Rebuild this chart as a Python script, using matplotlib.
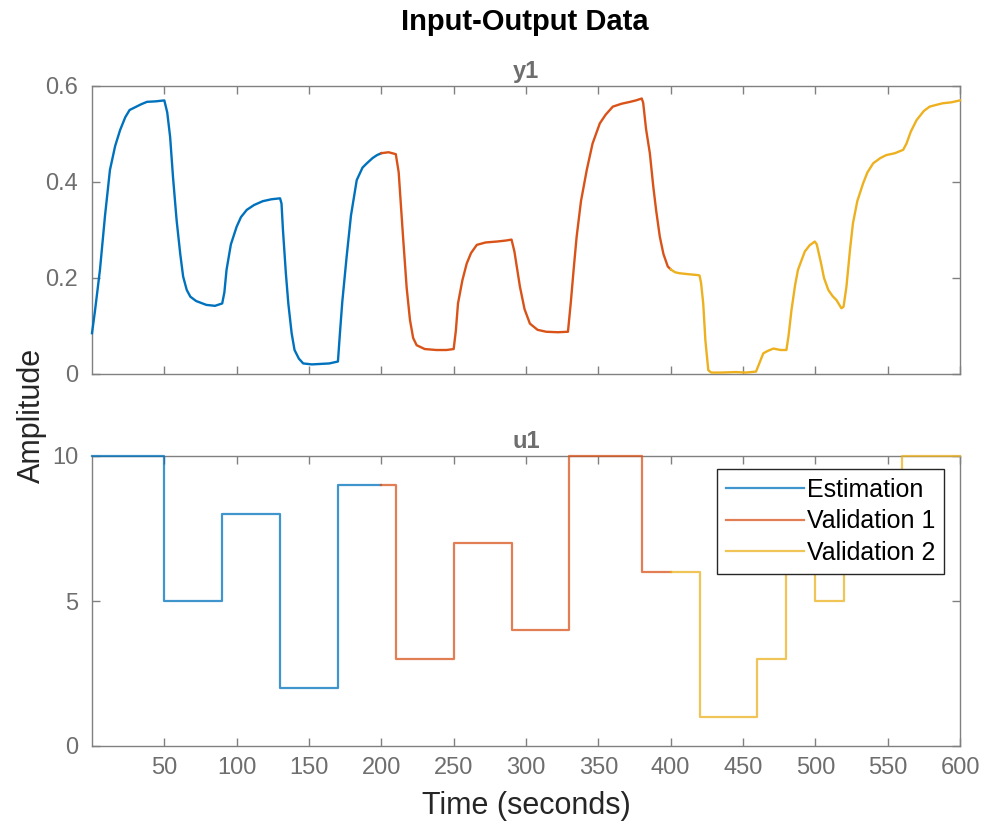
import matplotlib
matplotlib.use('Agg')
import matplotlib.pyplot as plt

plt.rcParams['font.family'] = ['Liberation Sans', 'DejaVu Sans']

COLORS = ['#0072BD', '#D95319', '#EDB120']
NAMES = ['Estimation', 'Validation 1', 'Validation 2']

# y1 output (time in seconds, amplitude)
est_t = [0, 2, 5.5, 9, 12.4, 16, 19.4, 23, 26, 30, 34, 38, 44, 50,
         52, 54, 56, 58.5, 61, 63, 65.5, 68, 72, 79, 85, 90,
         91.5, 93, 96, 100, 103, 107, 112, 118, 124, 130,
         131, 132, 134, 135.7, 138, 140, 143, 146, 152, 158, 164, 170,
         171.5, 173, 176, 179, 183, 187, 190, 194, 197, 200]
est_y = [0.085, 0.13, 0.217, 0.33, 0.425, 0.475, 0.508, 0.535, 0.55, 0.556, 0.562, 0.567, 0.568, 0.57,
         0.545, 0.494, 0.41, 0.32, 0.25, 0.203, 0.175, 0.161, 0.152, 0.144, 0.142, 0.147,
         0.17, 0.217, 0.27, 0.307, 0.327, 0.342, 0.352, 0.36, 0.364, 0.366,
         0.355, 0.3, 0.21, 0.147, 0.085, 0.05, 0.032, 0.022, 0.02, 0.021, 0.022, 0.026,
         0.09, 0.15, 0.244, 0.33, 0.404, 0.43, 0.439, 0.45, 0.456, 0.46]

val1_t = [200, 205, 210, 212, 215, 217.5, 219.8, 222, 224.4, 230, 238, 245, 250,
          251.5, 253, 256, 259, 262, 266, 272, 280, 286, 290,
          292, 295.8, 299, 302.7, 308, 314, 322, 329,
          331, 333, 335, 338, 342, 346, 351, 355, 360, 366, 372, 376, 380,
          381, 383, 385.6, 388, 390, 392.5, 395, 398, 400]
val1_y = [0.46, 0.462, 0.458, 0.42, 0.286, 0.18, 0.1125, 0.075, 0.06, 0.052, 0.05, 0.05, 0.052,
          0.09, 0.147, 0.195, 0.23, 0.252, 0.269, 0.274, 0.276, 0.278, 0.28,
          0.255, 0.182, 0.135, 0.105, 0.092, 0.088, 0.087, 0.088,
          0.15, 0.22, 0.286, 0.36, 0.425, 0.48, 0.522, 0.54, 0.557, 0.563, 0.567, 0.57, 0.574,
          0.565, 0.51, 0.46, 0.39, 0.34, 0.286, 0.25, 0.224, 0.218]

val2_t = [400, 403, 406, 412, 419, 420, 421, 422.5, 424, 426, 428, 435, 445, 452, 459,
          461, 464, 467, 471, 476, 480,
          481.5, 483.5, 486, 488, 492.7, 496, 499.6,
          501, 504, 506, 509, 512, 514.6, 518,
          519.5, 521.5, 524, 526, 529, 533, 536, 540, 545, 549, 555, 560.7,
          563, 566, 570, 575, 579, 584, 588, 594, 600]
val2_y = [0.218, 0.212, 0.21, 0.208, 0.206, 0.205, 0.19, 0.147, 0.07, 0.008, 0.003, 0.003, 0.004, 0.003, 0.005,
          0.02, 0.043, 0.048, 0.053, 0.05, 0.05,
          0.08, 0.133, 0.185, 0.217, 0.255, 0.268, 0.276,
          0.27, 0.23, 0.2, 0.175, 0.162, 0.154, 0.137,
          0.14, 0.182, 0.26, 0.314, 0.36, 0.397, 0.42, 0.439, 0.45, 0.456, 0.46, 0.467,
          0.48, 0.505, 0.529, 0.548, 0.557, 0.561, 0.564, 0.566, 0.57]

# u1 input, step levels (value holds from each time until the next)
est_ut = [0, 50, 90, 130, 170, 200]
est_u = [10, 5, 8, 2, 9, 9]
val1_ut = [200, 210, 250, 290, 330, 380, 400]
val1_u = [9, 3, 7, 4, 10, 6, 6]
val2_ut = [400, 420, 460, 480, 500, 520, 560, 600]
val2_u = [6, 1, 3, 7, 5, 9, 10, 10]

AX_GRAY = '#808080'
TXT_GRAY = '#6e6e6e'


def style_axes(ax):
    for s in ax.spines.values():
        s.set_color(AX_GRAY)
        s.set_linewidth(1.0)
    ax.tick_params(direction='in', length=6, width=1.0, color=AX_GRAY,
                   labelcolor=TXT_GRAY, labelsize=17, top=True, right=True)
    ax.tick_params(axis='y', pad=10)
    ax.tick_params(axis='x', pad=8)
    ax.set_xlim(0, 600)
    ax.set_xticks(range(50, 601, 50))


fig = plt.figure(figsize=(9.82, 8.24), dpi=100)
ax1 = fig.add_axes([92 / 982, 1 - 374 / 824, 868 / 982, 288 / 824])
ax2 = fig.add_axes([92 / 982, 1 - 746 / 824, 868 / 982, 290 / 824])

for t, y, c in zip([est_t, val1_t, val2_t], [est_y, val1_y, val2_y], COLORS):
    ax1.plot(t, y, color=c, lw=1.7, clip_on=False, zorder=3)
style_axes(ax1)
ax1.set_ylim(0, 0.6)
ax1.set_yticks([0, 0.2, 0.4, 0.6])
ax1.set_yticklabels(['0', '0.2', '0.4', '0.6'])
ax1.set_xticklabels([])
ax1.set_title('y1', fontsize=17, fontweight='bold', color=TXT_GRAY, pad=6)

for t, u, c, n in zip([est_ut, val1_ut, val2_ut], [est_u, val1_u, val2_u], COLORS, NAMES):
    ax2.step(t, u, where='post', color=c, lw=1.6, alpha=0.75, label=n,
             clip_on=False, zorder=3)
style_axes(ax2)
ax2.set_ylim(0, 10)
ax2.set_yticks([0, 5, 10])
ax2.set_title('u1', fontsize=17, fontweight='bold', color=TXT_GRAY, pad=6)
leg = ax2.legend(loc='upper right', bbox_to_anchor=(0.982, 0.955), fontsize=18,
                 fancybox=False, framealpha=1, edgecolor='#262626',
                 handlelength=3.1, handletextpad=0.15, borderpad=0.35,
                 labelspacing=0.3, borderaxespad=0)
leg.get_frame().set_linewidth(1.0)
leg.set_zorder(5)

fig.text(525 / 982, 1 - 22 / 824, 'Input-Output Data', ha='center', va='center',
         fontsize=21, fontweight='bold', color='black')
fig.text(32 / 982, 1 - 415 / 824, 'Amplitude', ha='center', va='center',
         rotation=90, fontsize=22, color='#262626')
fig.text(526 / 982, 1 - 806 / 824, 'Time (seconds)', ha='center', va='center',
         fontsize=22, color='#262626')

fig.savefig('out.png', dpi=100)
